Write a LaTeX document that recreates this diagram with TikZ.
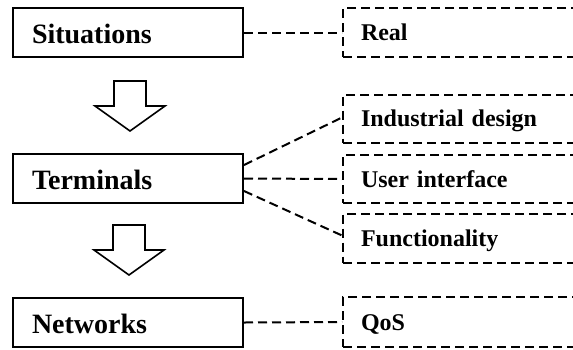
\documentclass[tikz,border=0pt]{standalone}
\usepackage{fontspec}
\setmainfont{Liberation Serif}
\usetikzlibrary{calc}
\tikzset{
  mainbox/.style={draw, line width=2pt, rectangle, minimum width=230pt, minimum height=49pt,
    inner xsep=19pt, inner ysep=0pt, text width=192pt, align=left,
    font=\fontsize{28pt}{32pt}\selectfont\bfseries, text height=23.5pt, text depth=1pt},
  dbox/.style={draw, line width=2pt, dash pattern=on 9pt off 5pt, rectangle, anchor=west,
    minimum width=262pt, inner xsep=18pt, inner ysep=0pt, text width=226pt, align=left,
    font=\fontsize{24pt}{28pt}\selectfont\bfseries, text height=18.5pt, text depth=2.5pt},
  dconn/.style={line width=2pt, dash pattern=on 9pt off 5pt},
  hollowarrow/.pic={\draw[line width=1.6pt, line join=miter]
     (-16pt,0) -- (16pt,0) -- (16pt,-25pt) -- (35pt,-25pt) -- (0,-50pt)
     -- (-35pt,-25pt) -- (-16pt,-25pt) -- cycle;}
}
\begin{document}
\begin{tikzpicture}[x=1pt,y=1pt]
\clip (0,0) rectangle (573,-349);
\useasboundingbox (0,0) rectangle (573,-349);
% main boxes
\node[mainbox] (sit) at (128,-32.5) {Situations};
\node[mainbox] (term) at (128,-178.5) {Terminals};
\node[mainbox] (net) at (128,-322.5) {Networks};
% dashed boxes
\node[dbox, minimum height=49pt] (real) at (342,-32.5) {Real};
\node[dbox, minimum height=48pt] (ind) at (342,-118.5) {Industrial design};
\node[dbox, minimum height=48pt] (ui) at (342,-179) {User interface};
\node[dbox, minimum height=49pt] (func) at (342,-238) {Functionality};
\node[dbox, minimum height=50pt] (qos) at (342,-322) {QoS};
% hollow arrows
\coordinate (a1) at (130,-81);
\coordinate (a2) at (129,-225);
\pic at (a1) {hollowarrow};
\pic at (a2) {hollowarrow};
% connectors
\draw[dconn] (sit.east) -- (real.west);
\draw[dconn] ([yshift=13.5pt]term.east) -- ([yshift=1pt]ind.west);
\draw[dconn] (term.east) -- (ui.west);
\draw[dconn] ([yshift=-12.5pt]term.east) -- ([yshift=2.5pt]func.west);
\draw[dconn] (net.east) -- (qos.west);
\end{tikzpicture}
\end{document}
